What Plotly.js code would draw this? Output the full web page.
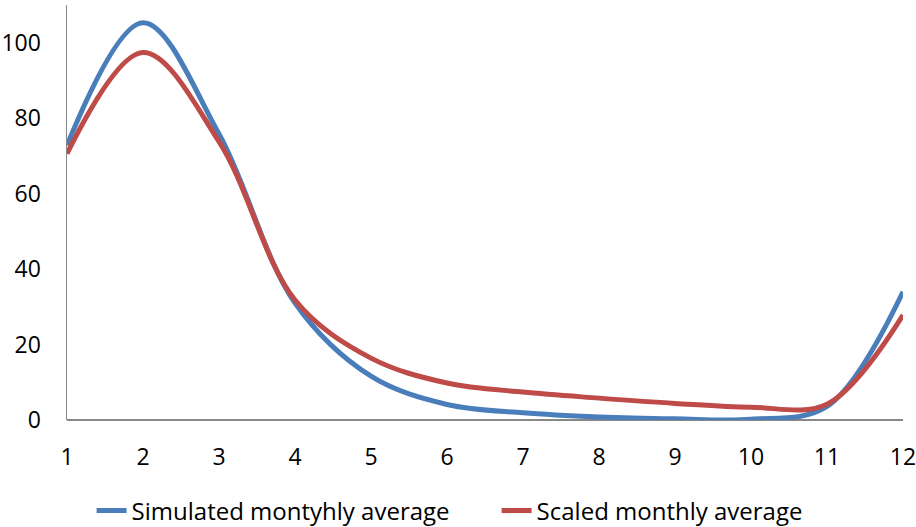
<!DOCTYPE html>
<html>
<head>
<meta charset="utf-8">
<script src="https://cdn.plot.ly/plotly-3.0.1.min.js"></script>
<style>html,body{margin:0;padding:0;background:#fff;}#chart{width:916px;height:527px;}</style>
</head>
<body>
<div id="chart"></div>
<script>
const months = [1,2,3,4,5,6,7,8,9,10,11,12];
const simulated = [72.8,105.3,75.8,31.0,11.6,4.1,1.9,0.8,0.3,0.2,3.6,34.0];
const scaled = [70.6,97.4,73.8,31.8,16.4,9.8,7.4,5.8,4.4,3.4,4.2,27.8];
const seriesNames = ["Simulated montyhly average","Scaled monthly average"];

const traces = [
  {x: months, y: simulated, name: seriesNames[0], type: 'scatter', mode: 'lines',
   line: {color: '#4a7ebb', width: 5, shape: 'spline', smoothing: 1}},
  {x: months, y: scaled, name: seriesNames[1], type: 'scatter', mode: 'lines',
   line: {color: '#be4b48', width: 5, shape: 'spline', smoothing: 1}}
];
const layout = {
  width: 916, height: 527,
  margin: {l: 67, r: 13, t: 5, b: 107, autoexpand: false},
  paper_bgcolor: '#fff', plot_bgcolor: '#fff',
  font: {family: 'Open Sans, sans-serif', size: 23, color: '#000'},
  showlegend: true,
  legend: {orientation: 'h', xref: 'container', x: 0.1, xanchor: 'left', y: -0.165, yanchor: 'top',
           font: {size: 24}, entrywidth: 360, entrywidthmode: 'pixels', traceorder: 'normal'},
  xaxis: {range: [1, 12], tickvals: months, ticktext: months.map(String), showgrid: false,
          zeroline: false, showline: false, ticks: '', ticklabelstandoff: 21, fixedrange: true,
          ticklabeloverflow: 'allow', automargin: false},
  yaxis: {range: [0, 110], tickvals: [0,20,40,60,80,100], showgrid: false, zeroline: true,
          zerolinecolor: '#888', zerolinewidth: 1.5, showline: true, linecolor: '#888', linewidth: 1.5,
          ticks: '', ticklabelstandoff: 20, fixedrange: true, automargin: false}
};
Plotly.newPlot('chart', traces, layout, {displayModeBar: false, staticPlot: true});
</script>
</body>
</html>
